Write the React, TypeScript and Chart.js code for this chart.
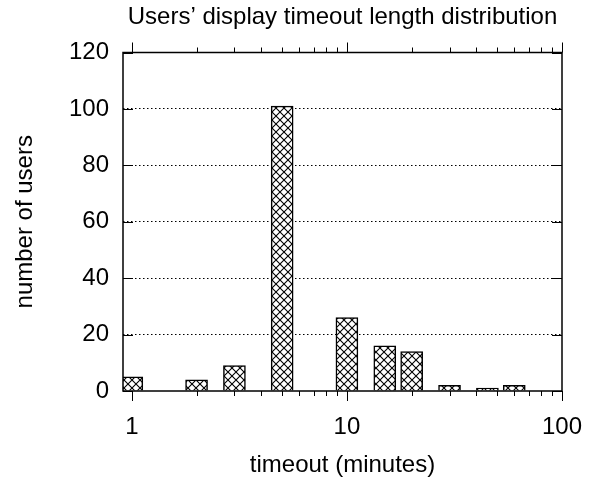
import { useEffect, useRef } from 'react';
import { Chart, registerables } from 'chart.js';

Chart.register(...registerables);

const titleText = 'Users’ display timeout length distribution';
const xTitle = 'timeout (minutes)';
const yTitle = 'number of users';
const timeouts = [1, 2, 3, 5, 10, 15, 20, 30, 45, 60];
const users = [5, 4, 9, 101, 26, 16, 14, 2, 1, 2];
const xLabelTicks = [1, 10, 100];
const xMinorTicks = [2, 3, 4, 5, 6, 7, 8, 9, 20, 30, 40, 50, 60, 70, 80, 90];
const yTicks = [0, 20, 40, 60, 80, 100, 120];

const FONT = '"Liberation Sans", Arial, Helvetica, sans-serif';
const FS = 24;

function makeHatch(): CanvasPattern | string {
  const s = 8;
  const c = document.createElement('canvas');
  c.width = s;
  c.height = s;
  const g = c.getContext('2d');
  if (!g) return '#fff';
  g.fillStyle = '#fff';
  g.fillRect(0, 0, s, s);
  g.strokeStyle = '#000';
  g.lineWidth = 1.1;
  g.beginPath();
  g.moveTo(-1, -1);
  g.lineTo(s + 1, s + 1);
  g.moveTo(s + 1, -1);
  g.lineTo(-1, s + 1);
  g.stroke();
  const p = g.createPattern(c, 'repeat');
  return p || '#fff';
}

const framePlugin = {
  id: 'gnuplotFrame',
  afterDatasetsDraw(chart: any) {
    const { ctx, chartArea: a, scales } = chart;
    const x = scales.x;
    const y = scales.y;
    ctx.save();
    ctx.strokeStyle = '#000';
    ctx.lineWidth = 1;
    ctx.beginPath();
    for (const v of yTicks) {
      const py = Math.round(y.getPixelForValue(v)) + 0.5;
      ctx.moveTo(a.left, py);
      ctx.lineTo(a.left + 10, py);
      ctx.moveTo(a.right, py);
      ctx.lineTo(a.right - 10, py);
    }
    const drawX = (v: number, len: number) => {
      const px = Math.round(x.getPixelForValue(v)) + 0.5;
      ctx.moveTo(px, a.bottom);
      ctx.lineTo(px, a.bottom + len);
      ctx.moveTo(px, a.top);
      ctx.lineTo(px, a.top - len);
    };
    for (const v of xLabelTicks) drawX(v, 10);
    for (const v of xMinorTicks) drawX(v, 5);
    ctx.stroke();
    ctx.lineWidth = 1.5;
    ctx.strokeRect(a.left, a.top, a.right - a.left, a.bottom - a.top);
    ctx.restore();
  },
};

export default function App() {
  const ref = useRef<HTMLCanvasElement | null>(null);

  useEffect(() => {
    if (!ref.current) return;
    Chart.defaults.font.family = FONT;
    Chart.defaults.color = '#000';
    const hatch = makeHatch();
    const chart = new Chart(ref.current, {
      type: 'bar',
      data: {
        datasets: [
          {
            label: 'users',
            data: timeouts.map((t, i) => ({ x: t, y: users[i] })),
            backgroundColor: hatch as any,
            borderColor: '#000',
            borderWidth: 1.5,
            barThickness: 22,
            clip: 0 as any,
          },
        ],
      },
      options: {
        responsive: false,
        animation: false,
        layout: { padding: { left: 0, right: 35, top: 0, bottom: 0 } },
        plugins: {
          legend: { display: false },
          tooltip: { enabled: false },
          title: {
            display: true,
            text: titleText,
            fullSize: false,
            color: '#000',
            font: { size: FS, weight: 'normal', family: FONT, lineHeight: 1.2 },
            padding: { top: 2.8, bottom: 20.9 },
          },
        },
        scales: {
          x: {
            type: 'logarithmic',
            min: 0.91,
            max: 100,
            grid: { display: false, drawTicks: false },
            border: { display: false },
            afterBuildTicks: (s: any) => {
              s.ticks = xLabelTicks.map((v) => ({ value: v }));
            },
            afterFit: (s: any) => {
              s.height = 86;
              s.paddingLeft = 0;
              s.paddingRight = 0;
            },
            ticks: {
              autoSkip: false,
              maxRotation: 0,
              padding: 21.5,
              color: '#000',
              font: { size: FS, family: FONT },
              callback: (v: any) => String(v),
            },
            title: {
              display: true,
              text: xTitle,
              color: '#000',
              font: { size: FS, family: FONT, lineHeight: 1.2 },
              padding: { top: 0, bottom: -2.5 },
            },
          },
          y: {
            type: 'linear',
            min: 0,
            max: 120,
            afterBuildTicks: (s: any) => {
              s.ticks = yTicks.map((v) => ({ value: v }));
            },
            afterFit: (s: any) => {
              s.width = 123;
              s.paddingTop = 0;
              s.paddingBottom = 0;
            },
            grid: {
              drawTicks: false,
              lineWidth: 1,
              color: (c: any) =>
                c.tick && (c.tick.value === 0 || c.tick.value === 120) ? 'rgba(0,0,0,0)' : '#000',
            },
            border: { display: false, dash: [1.5, 2.5] },
            ticks: {
              padding: 14,
              color: '#000',
              font: { size: FS, family: FONT },
            },
            title: {
              display: true,
              text: yTitle,
              color: '#000',
              font: { size: FS, family: FONT, lineHeight: 1.2 },
              padding: { top: 10.5, bottom: 0 },
            },
          },
        },
      },
      plugins: [framePlugin],
    });
    return () => chart.destroy();
  }, []);

  return (
    <div style={{ position: 'absolute', left: 0, top: 0, width: 597, height: 477, background: '#fff' }}>
      <canvas ref={ref} width={597} height={477} style={{ display: 'block', width: 597, height: 477 }} />
    </div>
  );
}
